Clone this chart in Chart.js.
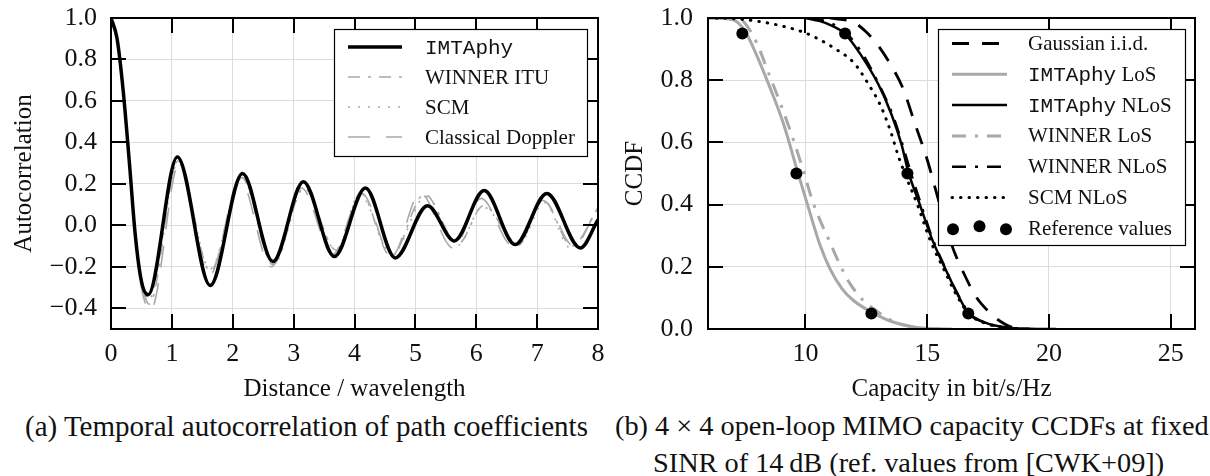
<!DOCTYPE html>
<html>
<head>
<meta charset="utf-8">
<script src="https://cdn.jsdelivr.net/npm/chart.js@4.4.0/dist/chart.umd.min.js"></script>
<style>
  body { margin: 0; background: #fff; width: 1210px; height: 476px; overflow: hidden; position: relative; }
  canvas { position: absolute; top: 0; }
  #corrChart { left: 0; }
  #capChart { left: 605px; }
  .cap { position: absolute; font-family: "Liberation Serif", serif; font-size: 28.3px; line-height: 1; color: #111; white-space: nowrap; }
</style>
</head>
<body>
<canvas id="corrChart" width="605" height="405"></canvas>
<canvas id="capChart" width="605" height="405"></canvas>
<div class="cap" style="left:25px; top:412px; font-size:29px;">(a) Temporal autocorrelation of path coefficients</div>
<div class="cap" style="left:615px; top:412px;">(b) 4 × 4 open-loop MIMO capacity CCDFs at fixed</div>
<div class="cap" style="left:653px; top:449px;">SINR of 14&#8201;dB (ref. values from [CWK+09])</div>
<script>
// (a) temporal autocorrelation, distance in wavelengths
const distTicks = [0, 1, 2, 3, 4, 5, 6, 7, 8];
const corrTicks = [-0.4, -0.2, 0, 0.2, 0.4, 0.6, 0.8, 1.0];

const imtDist = [0, 0.1, 0.2, 0.3, 0.4, 0.5, 0.61, 1.09, 1.63, 2.16, 2.66, 3.16, 3.67, 4.18, 4.67, 5.2, 5.64, 6.13, 6.64, 7.16, 7.71, 8.0];
const imtCorr = [1.0, 0.90, 0.65, 0.31, -0.05, -0.27, -0.335, 0.33, -0.29, 0.25, -0.175, 0.21, -0.15, 0.18, -0.157, 0.095, -0.075, 0.168, -0.093, 0.154, -0.109, 0.027];

const winnerDist = [0, 0.1, 0.2, 0.3, 0.4, 0.5, 0.63, 1.1, 1.63, 2.15, 2.66, 3.17, 3.7, 4.1, 4.6, 5.15, 5.7, 6.12, 6.69, 7.1, 7.57, 8.0];
const winnerCorr = [1.0, 0.91, 0.66, 0.32, -0.04, -0.27, -0.38, 0.31, -0.22, 0.23, -0.19, 0.18, -0.12, 0.155, -0.15, 0.15, -0.09, 0.095, -0.095, 0.12, -0.10, 0.085];

const scmDist = [0, 0.1, 0.2, 0.3, 0.4, 0.5, 0.62, 1.1, 1.63, 2.15, 2.67, 3.17, 3.7, 4.08, 4.62, 5.17, 5.7, 6.1, 6.7, 7.12, 7.55, 8.0];
const scmCorr = [1.0, 0.91, 0.66, 0.33, -0.03, -0.25, -0.36, 0.30, -0.21, 0.23, -0.19, 0.18, -0.12, 0.15, -0.14, 0.14, -0.095, 0.09, -0.09, 0.11, -0.11, 0.08];

const dopplerDist = [0, 0.1, 0.2, 0.3, 0.4, 0.5, 0.65, 1.12, 1.62, 2.12, 2.63, 3.13, 3.64, 4.12, 4.61, 5.08, 5.62, 6.08, 6.6, 7.1, 7.6, 8.0];
const dopplerCorr = [1.0, 0.90, 0.64, 0.30, -0.06, -0.30, -0.41, 0.30, -0.24, 0.22, -0.20, 0.18, -0.14, 0.155, -0.15, 0.155, -0.11, 0.13, -0.10, 0.12, -0.10, 0.09];

// (b) capacity CCDFs, capacity in bit/s/Hz
const capTicks = [10, 15, 20, 25];
const ccdfTicks = [0, 0.2, 0.4, 0.6, 0.8, 1.0];

const gaussCap = [11, 12, 12.5, 13, 13.5, 14, 14.5, 15, 15.5, 16, 16.5, 17, 17.5, 18, 18.4, 19];
const gaussCcdf = [1.0, 0.985, 0.955, 0.91, 0.85, 0.775, 0.66, 0.545, 0.405, 0.272, 0.18, 0.105, 0.058, 0.025, 0.008, 0];

const imtLosCap = [6, 7, 7.5, 8, 8.5, 9.1, 9.7, 10.2, 10.6, 11, 11.5, 12, 12.7, 13.5, 14.5, 16];
const imtLosCcdf = [1.0, 0.995, 0.96, 0.88, 0.785, 0.66, 0.5, 0.37, 0.27, 0.195, 0.13, 0.09, 0.055, 0.025, 0.006, 0];

const imtNlosCap = [10, 10.6, 11.1, 11.62, 12.23, 13, 13.54, 13.95, 14.22, 14.7, 15.18, 15.73, 16.2, 16.69, 17.44, 18.26, 19.2, 20.3];
const imtNlosCcdf = [1.0, 0.99, 0.975, 0.95, 0.887, 0.786, 0.689, 0.593, 0.507, 0.4, 0.293, 0.196, 0.12, 0.051, 0.019, 0.005, 0.001, 0];

const winLosCap = [6, 7.3, 7.5, 8, 8.5, 9, 9.5, 9.95, 10.3, 10.6, 11, 11.4, 11.8, 12.4, 12.8, 13.6, 14.5, 15.5];
const winLosCcdf = [1.0, 0.995, 0.985, 0.92, 0.82, 0.72, 0.61, 0.5, 0.41, 0.35, 0.28, 0.21, 0.15, 0.09, 0.065, 0.025, 0.005, 0];

const winNlosCap = [10.2, 11, 11.7, 12.3, 13, 13.6, 14, 14.3, 14.75, 15.2, 15.75, 16.2, 16.75, 17.5, 18.3, 19.2];
const winNlosCcdf = [1.0, 0.985, 0.95, 0.89, 0.79, 0.685, 0.59, 0.51, 0.4, 0.295, 0.195, 0.12, 0.05, 0.018, 0.004, 0];

const scmNlosCap = [6, 7, 8, 9, 10, 10.6, 11.1, 12, 12.6, 13.1, 13.5, 13.8, 14.1, 14.6, 15.1, 15.7, 16.2, 16.7, 17.4, 18.3, 19];
const scmNlosCcdf = [1.0, 0.998, 0.99, 0.975, 0.952, 0.93, 0.907, 0.855, 0.786, 0.716, 0.635, 0.56, 0.496, 0.4, 0.29, 0.19, 0.11, 0.05, 0.018, 0.004, 0];

const refCap = [7.41, 9.63, 12.71, 11.63, 14.19, 16.69];
const refCcdf = [0.95, 0.5, 0.05, 0.95, 0.5, 0.05];

const GRAY = '#a8a8a8';
const SERIF = "'Liberation Serif', serif";
const MONO = "'Liberation Mono', monospace";

Chart.defaults.font.family = SERIF;
Chart.defaults.font.size = 26;
Chart.defaults.color = '#111';

function pts(xs, ys) {
    return xs.map((x, i) => ({ x: x, y: ys[i] }));
}

function fmtTick(v) {
    return (v < -1e-9 ? '\u2212' : '') + Math.abs(v).toFixed(1);
}

// per-canvas frame and legend settings, kept outside the chart options
const frameCfg = {
    corrChart: {
        innerX: distTicks.slice(1, -1), innerY: corrTicks.slice(0, -1),
        bx: 334, by: 29, bw: 253, bh: 127, rowStart: 47, rowGap: 30, lineX0: 348, lineX1: 402, textX: 425
    },
    capChart: {
        innerX: capTicks, innerY: ccdfTicks.slice(1, -1),
        bx: 333, by: 29, bw: 247, bh: 216, rowStart: 43.5, rowGap: 30.8, lineX0: 347, lineX1: 402, textX: 423
    }
};

// frame with inward ticks on all four sides, plus a boxed legend drawn on top
const framePlugin = {
    id: 'frameTicks',
    afterDraw(chart) {
        const L = frameCfg[chart.canvas.id];
        const ctx = chart.ctx;
        const a = chart.chartArea;
        const sx = chart.scales.x;
        const sy = chart.scales.y;
        const left = Math.round(a.left), right = Math.round(a.right);
        const top = Math.round(a.top), bottom = Math.round(a.bottom);
        ctx.save();
        ctx.setLineDash([]);
        ctx.strokeStyle = '#000';
        ctx.lineWidth = 2;
        ctx.beginPath();
        for (let i = 0; i < L.innerX.length; i++) {
            const px = Math.round(sx.getPixelForValue(L.innerX[i]));
            ctx.moveTo(px, bottom); ctx.lineTo(px, bottom - 15);
            ctx.moveTo(px, top); ctx.lineTo(px, top + 15);
        }
        for (let i = 0; i < L.innerY.length; i++) {
            const py = Math.round(sy.getPixelForValue(L.innerY[i]));
            ctx.moveTo(left, py); ctx.lineTo(left + 15, py);
            ctx.moveTo(right, py); ctx.lineTo(right - 15, py);
        }
        ctx.rect(left, top, right - left, bottom - top);
        ctx.stroke();

        // legend
        ctx.fillStyle = '#fff';
        ctx.fillRect(L.bx, L.by, L.bw, L.bh);
        ctx.lineWidth = 1.2;
        ctx.strokeRect(L.bx + 0.5, L.by + 0.5, L.bw, L.bh);
        chart.data.datasets.forEach((ds, i) => {
            const ry = L.rowStart + i * L.rowGap;
            if (ds.showLine === false) {
                ctx.fillStyle = ds.pointBackgroundColor;
                [L.lineX0 + 1, (L.lineX0 + L.lineX1) / 2, L.lineX1 - 1].forEach((dx, k) => {
                    ctx.beginPath();
                    ctx.arc(dx, ry + (k === 1 ? -2 : 1), ds.pointRadius, 0, Math.PI * 2);
                    ctx.fill();
                });
            } else {
                ctx.strokeStyle = ds.borderColor;
                ctx.lineWidth = ds.borderWidth;
                ctx.lineCap = ds.borderCapStyle || 'butt';
                ctx.setLineDash(ds.borderDash || []);
                ctx.beginPath();
                ctx.moveTo(L.lineX0, ry);
                ctx.lineTo(L.lineX1, ry);
                ctx.stroke();
                ctx.setLineDash([]);
                ctx.lineCap = 'butt';
            }
            ctx.fillStyle = '#111';
            ctx.textBaseline = 'middle';
            ctx.textAlign = 'left';
            let tx = L.textX;
            let label = ds.label;
            if (label.startsWith('IMTAphy')) {
                ctx.font = '21px ' + MONO;
                ctx.fillText('IMTAphy', tx, ry + 1);
                tx += ctx.measureText('IMTAphy').width;
                label = label.slice(7);
            }
            ctx.font = '21px ' + SERIF;
            ctx.fillText(label, tx, ry + 1);
        });
        ctx.restore();
    }
};

function lineSet(label, xs, ys, color, width, dash, order, cap) {
    return {
        label: label,
        data: pts(xs, ys),
        borderColor: color,
        borderWidth: width,
        borderDash: dash,
        borderCapStyle: cap || 'butt',
        pointRadius: 0,
        fill: false,
        cubicInterpolationMode: 'monotone',
        order: order,
        clip: 0
    };
}

// fixed axis box size, no extra padding for edge labels
function fixBox(size) {
    return s => {
        if (s.isHorizontal()) s.height = size; else s.width = size;
        s.paddingLeft = 0; s.paddingRight = 0; s.paddingTop = 0; s.paddingBottom = 0;
    };
}

function axisOptions(min, max, ticks, title, boxSize, tickPad, titlePad) {
    return {
        type: 'linear',
        min: min,
        max: max,
        afterBuildTicks: s => { s.ticks = ticks.map(v => ({ value: v })); },
        afterFit: fixBox(boxSize),
        ticks: { padding: tickPad, maxRotation: 0, autoSkip: false, callback: v => v },
        grid: { color: '#dcdcdc', lineWidth: 1, drawTicks: false },
        border: { display: false },
        title: { display: true, text: title, padding: titlePad, font: { size: 25 } }
    };
}

// chart (a)
const corrCtx = document.getElementById('corrChart').getContext('2d');
const corrX = axisOptions(0, 8, distTicks, 'Distance / wavelength', 76, 10, { top: 0, bottom: 1 });
const corrY = axisOptions(-0.5, 1.0, corrTicks, 'Autocorrelation', 111, 14, { top: 9, bottom: 0 });
corrY.ticks.callback = v => fmtTick(v);
new Chart(corrCtx, {
    type: 'line',
    data: {
        datasets: [
            lineSet('IMTAphy', imtDist, imtCorr, '#000', 3.5, [], 0),
            lineSet('WINNER ITU', winnerDist, winnerCorr, GRAY, 1.6, [12, 8, 3, 8], 1),
            lineSet('SCM', scmDist, scmCorr, GRAY, 1.6, [2, 8], 2),
            lineSet('Classical Doppler', dopplerDist, dopplerCorr, GRAY, 1.6, [22, 16], 3)
        ]
    },
    options: {
        responsive: false,
        animation: false,
        layout: { padding: { left: 0, right: 7, top: 18, bottom: 0 } },
        scales: { x: corrX, y: corrY },
        plugins: { legend: { display: false }, tooltip: { enabled: false } }
    },
    plugins: [framePlugin]
});

// chart (b)
const capCtx = document.getElementById('capChart').getContext('2d');
const capX = axisOptions(6, 26, capTicks, 'Capacity in bit/s/Hz', 76, 10, { top: 0, bottom: 1 });
const capY = axisOptions(0, 1.0, ccdfTicks, 'CCDF', 103, 15, { top: 15, bottom: 0 });
capY.ticks.callback = v => fmtTick(v);
new Chart(capCtx, {
    type: 'line',
    data: {
        datasets: [
            lineSet('Gaussian i.i.d.', gaussCap, gaussCcdf, '#000', 2.8, [17, 13], 3),
            lineSet('IMTAphy LoS', imtLosCap, imtLosCcdf, GRAY, 3, [], 6),
            lineSet('IMTAphy NLoS', imtNlosCap, imtNlosCcdf, '#000', 2.5, [], 2),
            lineSet('WINNER LoS', winLosCap, winLosCcdf, GRAY, 3, [14, 9, 3, 9], 5),
            lineSet('WINNER NLoS', winNlosCap, winNlosCcdf, '#000', 2.5, [14, 9, 3, 9], 4),
            lineSet('SCM NLoS', scmNlosCap, scmNlosCcdf, '#000', 3, [0.5, 8], 1, 'round'),
            {
                label: 'Reference values',
                data: pts(refCap, refCcdf),
                showLine: false,
                pointRadius: 6,
                pointBackgroundColor: '#000',
                pointBorderWidth: 0,
                borderColor: '#000',
                order: 0,
                clip: 0
            }
        ]
    },
    options: {
        responsive: false,
        animation: false,
        layout: { padding: { left: 0, right: 15, top: 18, bottom: 0 } },
        scales: { x: capX, y: capY },
        plugins: { legend: { display: false }, tooltip: { enabled: false } }
    },
    plugins: [framePlugin]
});
</script>
</body>
</html>
